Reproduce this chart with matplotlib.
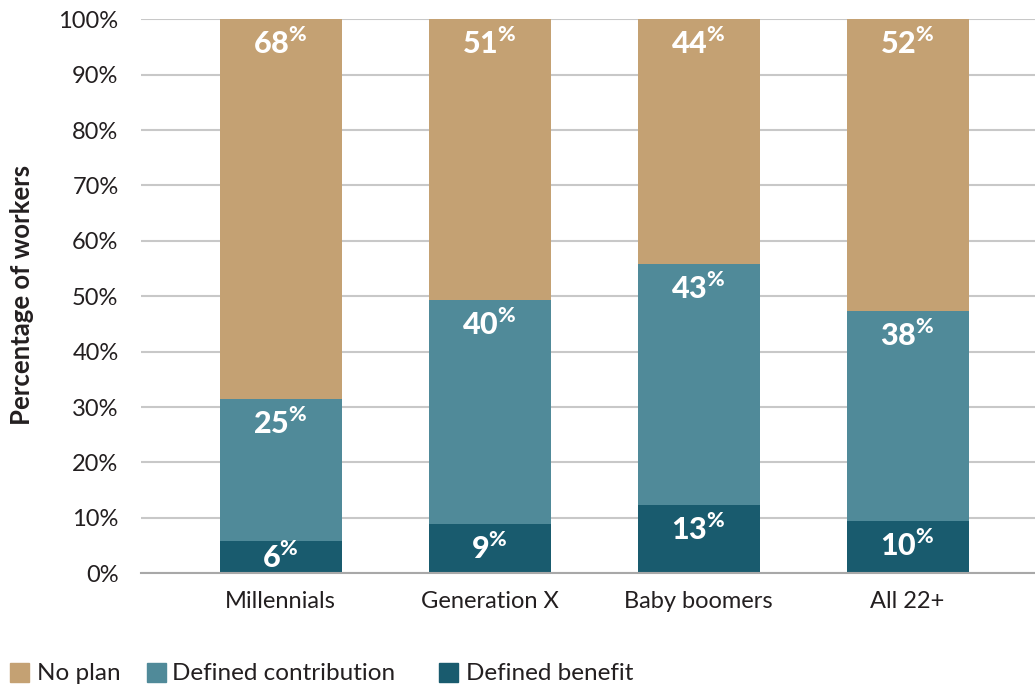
import numpy as np
import matplotlib
matplotlib.use("Agg")
import matplotlib.pyplot as plt
from matplotlib.patches import Rectangle

plt.rcParams['font.family'] = ['Lato', 'DejaVu Sans']
plt.rcParams['mathtext.fontset'] = 'custom'
plt.rcParams['mathtext.rm'] = 'Lato'
plt.rcParams['mathtext.bf'] = 'Lato:black'

categories = ["Millennials", "Generation X", "Baby boomers", "All 22+"]
# segment heights (% of workers)
defined_benefit = [5.8, 8.9, 12.3, 9.4]
defined_contribution = [25.7, 40.4, 43.5, 37.9]
no_plan = [68.5, 50.7, 44.2, 52.7]
# printed labels
db_labels = ["6", "9", "13", "10"]
dc_labels = ["25", "40", "43", "38"]
np_labels = ["68", "51", "44", "52"]

c_np = "#c4a173"
c_dc = "#508a99"
c_db = "#195b6e"

fig = plt.figure(figsize=(10.35, 6.87), dpi=100)
ax = fig.add_axes([0.136, 0.1655, 0.864, 0.8065])

x = np.arange(len(categories))
w = 0.584
db = np.array(defined_benefit)
dc = np.array(defined_contribution)
npl = np.array(no_plan)

ax.bar(x, db, w, color=c_db, zorder=3)
ax.bar(x, dc, w, bottom=db, color=c_dc, zorder=3)
ax.bar(x, npl, w, bottom=db + dc, color=c_np, zorder=3)


def put_label(xi, bottom, top, txt):
    y = max(top - 4.4, (bottom + top) / 2)
    ax.text(xi, y, r"$\mathbf{%s}^{\mathbf{\%%}}$" % txt, ha="center", va="center",
            color="white", fontsize=22, zorder=5)


for i in range(len(categories)):
    put_label(x[i], 0, db[i], db_labels[i])
    put_label(x[i], db[i], db[i] + dc[i], dc_labels[i])
    put_label(x[i], db[i] + dc[i], db[i] + dc[i] + npl[i], np_labels[i])

ax.set_xlim(-0.67, 3.61)
ax.set_ylim(0, 100)
ax.set_yticks(np.arange(0, 101, 10))
ax.set_yticklabels(["%d%%" % v for v in range(0, 101, 10)], fontsize=17, color="#231f20")
ax.set_xticks(x)
ax.set_xticklabels(categories, fontsize=17, color="#231f20")
ax.tick_params(axis="y", length=0, pad=16)
ax.tick_params(axis="x", length=0, pad=13)
ax.yaxis.grid(True, color="#c8c8c8", linewidth=1.5, zorder=0)
ax.set_axisbelow(True)
for s in ["top", "right", "left"]:
    ax.spines[s].set_visible(False)
ax.spines["bottom"].set_color("#a8a8a8")
ax.spines["bottom"].set_linewidth(1.5)
ax.spines["bottom"].set_zorder(4)

fig.text(0.021, 1 - 295 / 687, "Percentage of workers", rotation=90, ha="center", va="center",
         fontsize=18.5, fontweight="bold", color="#231f20")

# legend along the bottom
legend_items = [("No plan", c_np, 10, 37), ("Defined contribution", c_dc, 147, 172),
                ("Defined benefit", c_db, 439, 466)]
for name, col, sx, tx in legend_items:
    fig.patches.append(Rectangle((sx / 1035, 1 - 682 / 687), 19 / 1035, 19 / 687,
                                 transform=fig.transFigure, color=col))
    fig.text(tx / 1035, 1 - 673 / 687, name, ha="left", va="center", fontsize=17.5,
             color="#231f20")

fig.savefig("out.png", dpi=100)
